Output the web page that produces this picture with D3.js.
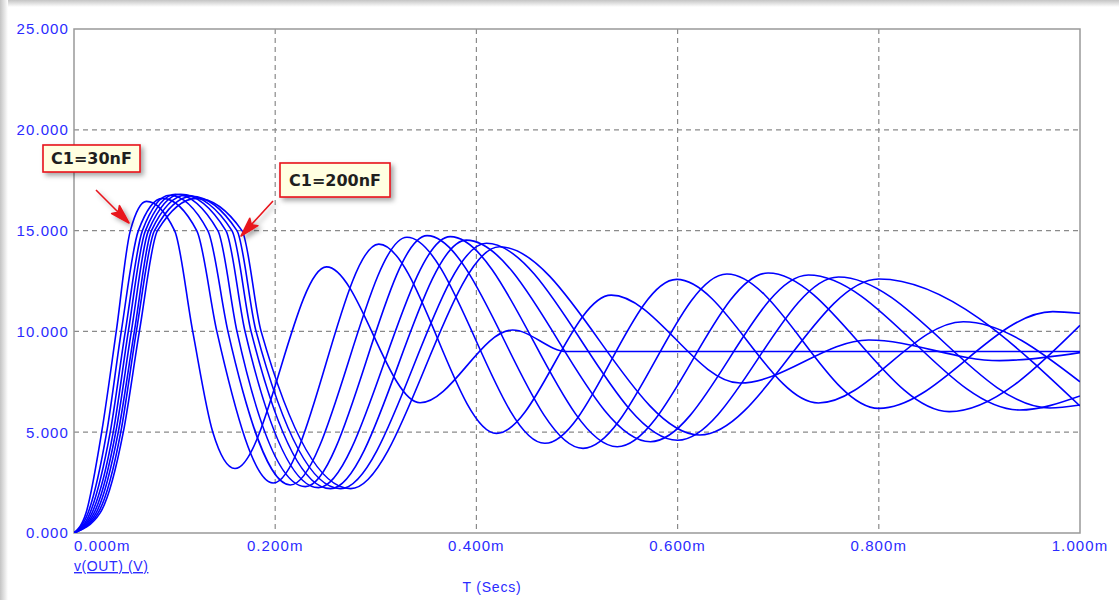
<!DOCTYPE html>
<html>
<head>
<meta charset="utf-8">
<script src="https://cdn.jsdelivr.net/npm/d3@7"></script>
<style>
  body { margin: 0; background: #fff; }
  svg { display: block; }
</style>
</head>
<body>
<script>
// time in ms, v(OUT) in volts; one array per C1 value (30nF .. 200nF)
const wave30nF  = [[0,0],[0.012,1],[0.0275,5],[0.042,10],[0.056,15],[0.072,16.45],[0.100,15],[0.118,10],[0.138,5],[0.16,3.2],
                   [0.251,13.2],[0.344,6.46],[0.436,10.07],[0.49,9.0],[1.0,9.0]];
const wave55nF  = [[0,0],[0.014,1],[0.0325,5],[0.047,10],[0.064,15],[0.088,16.6],[0.122,15],[0.142,10],[0.198,2.48],
                   [0.303,14.33],[0.42,4.94],[0.534,11.8],[0.662,7.44],[0.79,9.57],[0.92,8.55],[1.0,8.95]];
const wave80nF  = [[0,0],[0.016,1],[0.036,5],[0.051,10],[0.068,15],[0.095,16.75],[0.133,15],[0.153,10],[0.215,2.38],
                   [0.331,14.67],[0.468,4.45],[0.599,12.58],[0.74,6.45],[0.884,10.48],[1.0,7.5]];
const wave105nF = [[0,0],[0.018,1],[0.039,5],[0.054,10],[0.071,15],[0.101,16.8],[0.143,15],[0.162,10],[0.23,2.3],
                   [0.351,14.75],[0.506,4.2],[0.649,12.85],[0.80,6.18],[0.973,10.98],[1.0,10.9]];
const wave130nF = [[0,0],[0.020,1],[0.0415,5],[0.057,10],[0.074,15],[0.106,16.8],[0.151,15],[0.170,10],[0.243,2.25],
                   [0.374,14.7],[0.54,4.28],[0.69,12.9],[0.87,6.02],[1.0,10.3]];
const wave155nF = [[0,0],[0.022,1],[0.044,5],[0.060,10],[0.077,15],[0.111,16.75],[0.157,15],[0.176,10],[0.255,2.2],
                   [0.39,14.53],[0.573,4.53],[0.73,12.8],[0.94,6.1],[1.0,6.8]];
const wave180nF = [[0,0],[0.024,1],[0.0465,5],[0.062,10],[0.080,15],[0.117,16.7],[0.162,15],[0.181,10],[0.265,2.2],
                   [0.41,14.37],[0.60,4.6],[0.76,12.7],[0.97,6.2],[1.0,6.35]];
const wave200nF = [[0,0],[0.026,1],[0.049,5],[0.065,10],[0.083,15],[0.122,16.6],[0.167,15],[0.186,10],[0.275,2.2],
                   [0.423,14.2],[0.622,4.86],[0.80,12.6],[1.0,6.3]];

const waves = [wave30nF, wave55nF, wave80nF, wave105nF, wave130nF, wave155nF, wave180nF, wave200nF];

const yTicks = [0, 5, 10, 15, 20, 25];
const xTicks = [0, 0.2, 0.4, 0.6, 0.8, 1.0];
const callouts = [
  { text: "C1=30nF",  box: [43, 145, 97, 27],  from: [96, 190],  to: [129, 223] },
  { text: "C1=200nF", box: [280, 163, 110, 34], from: [273, 201], to: [241, 236] }
];

const W = 1119, H = 600;
const plot = { left: 74, top: 29, right: 1080, bottom: 533 };
const axisBlue = "#2b2bff";
const font = "'Liberation Sans', Arial, sans-serif";

const x = d3.scaleLinear().domain([0, 1]).range([plot.left, plot.right]);
const y = d3.scaleLinear().domain([0, 25]).range([plot.bottom, plot.top]);

const svg = d3.select("body").append("svg")
  .attr("width", W)
  .attr("height", H);

const defs = svg.append("defs");

const gTop = defs.append("linearGradient").attr("id", "edgeTop")
  .attr("x1", 0).attr("y1", 0).attr("x2", 0).attr("y2", 1);
gTop.append("stop").attr("offset", 0).attr("stop-color", "#c4c4c4");
gTop.append("stop").attr("offset", 1).attr("stop-color", "#ffffff");

const gLeft = defs.append("linearGradient").attr("id", "edgeLeft")
  .attr("x1", 0).attr("y1", 0).attr("x2", 1).attr("y2", 0);
gLeft.append("stop").attr("offset", 0).attr("stop-color", "#c4c4c4");
gLeft.append("stop").attr("offset", 1).attr("stop-color", "#ffffff");

defs.append("filter").attr("id", "shadow")
  .attr("x", "-30%").attr("y", "-30%").attr("width", "170%").attr("height", "170%")
  .append("feDropShadow")
    .attr("dx", 3).attr("dy", 3).attr("stdDeviation", 2.5)
    .attr("flood-color", "#000").attr("flood-opacity", 0.35);

defs.append("clipPath").attr("id", "plotClip")
  .append("rect")
    .attr("x", plot.left).attr("y", plot.top)
    .attr("width", plot.right - plot.left).attr("height", plot.bottom - plot.top);

// window edge shading
svg.append("rect").attr("x", 0).attr("y", 0).attr("width", W).attr("height", 7).attr("fill", "url(#edgeTop)");
svg.append("rect").attr("x", 0).attr("y", 0).attr("width", 8).attr("height", H).attr("fill", "url(#edgeLeft)");

// grid
svg.append("g")
  .selectAll("line")
  .data(yTicks.slice(1, -1))
  .join("line")
    .attr("x1", plot.left).attr("x2", plot.right)
    .attr("y1", d => y(d)).attr("y2", d => y(d))
    .attr("stroke", "#8a8a8a")
    .attr("stroke-width", 1.2)
    .attr("stroke-dasharray", "5,4");

svg.append("g")
  .selectAll("line")
  .data(xTicks.slice(1, -1))
  .join("line")
    .attr("x1", d => x(d)).attr("x2", d => x(d))
    .attr("y1", plot.top).attr("y2", plot.bottom)
    .attr("stroke", "#8a8a8a")
    .attr("stroke-width", 1.2)
    .attr("stroke-dasharray", "5,4");

// frame
svg.append("rect")
  .attr("x", plot.left).attr("y", plot.top)
  .attr("width", plot.right - plot.left).attr("height", plot.bottom - plot.top)
  .attr("fill", "none")
  .attr("stroke", "#999")
  .attr("stroke-width", 1.5);

// curves
const line = d3.line()
  .x(d => x(d[0]))
  .y(d => y(d[1]))
  .curve(d3.curveMonotoneX);

svg.append("g")
  .attr("clip-path", "url(#plotClip)")
  .selectAll("path")
  .data(waves)
  .join("path")
    .attr("d", line)
    .attr("fill", "none")
    .attr("stroke", "#0000ff")
    .attr("stroke-width", 1.6);

// y tick labels
svg.append("g")
  .selectAll("text")
  .data(yTicks)
  .join("text")
    .attr("x", 69)
    .attr("y", d => y(d))
    .attr("dy", "0.36em")
    .attr("text-anchor", "end")
    .attr("font-family", font)
    .attr("font-size", 15)
    .attr("letter-spacing", 1.1)
    .attr("fill", axisBlue)
    .text(d => d3.format(".3f")(d));

// x tick labels
svg.append("g")
  .selectAll("text")
  .data(xTicks)
  .join("text")
    .attr("x", (d, i) => i === 0 ? plot.left : x(d))
    .attr("y", 551)
    .attr("text-anchor", (d, i) => i === 0 ? "start" : "middle")
    .attr("font-family", font)
    .attr("font-size", 15)
    .attr("letter-spacing", 1.1)
    .attr("fill", axisBlue)
    .text(d => d3.format(".3f")(d) + "m");

svg.append("text")
  .attr("x", plot.left)
  .attr("y", 571)
  .attr("font-family", font)
  .attr("font-size", 14)
  .attr("letter-spacing", 0.6)
  .attr("text-decoration", "underline")
  .attr("fill", axisBlue)
  .text("v(OUT) (V)");

svg.append("text")
  .attr("x", 492)
  .attr("y", 592)
  .attr("text-anchor", "middle")
  .attr("font-family", font)
  .attr("font-size", 14)
  .attr("letter-spacing", 0.8)
  .attr("fill", axisBlue)
  .text("T (Secs)");

// callouts
const notes = svg.append("g").selectAll("g")
  .data(callouts)
  .join("g");

notes.append("path")
  .attr("filter", "url(#shadow)")
  .attr("fill", "#e8141c")
  .attr("stroke", "#e8141c")
  .attr("stroke-width", 1.6)
  .attr("stroke-linejoin", "round")
  .attr("d", d => {
    const [x0, y0] = d.from, [x1, y1] = d.to;
    const ang = Math.atan2(y1 - y0, x1 - x0);
    const len = 19, half = 5.5;
    const bx = x1 - len * Math.cos(ang), by = y1 - len * Math.sin(ang);
    const nx = -Math.sin(ang) * half, ny = Math.cos(ang) * half;
    const cx = x1 - len * 0.8 * Math.cos(ang), cy = y1 - len * 0.8 * Math.sin(ang);
    return `M${x0},${y0}L${cx},${cy}` +
      `M${x1},${y1}L${bx + nx},${by + ny}L${cx},${cy}L${bx - nx},${by - ny}Z`;
  });

notes.append("rect")
  .attr("filter", "url(#shadow)")
  .attr("x", d => d.box[0]).attr("y", d => d.box[1])
  .attr("width", d => d.box[2]).attr("height", d => d.box[3])
  .attr("fill", "#ffffe1")
  .attr("stroke", "#e8141c")
  .attr("stroke-width", 1.6);

notes.append("text")
  .attr("x", d => d.box[0] + d.box[2] / 2)
  .attr("y", d => d.box[1] + d.box[3] / 2)
  .attr("dy", "0.36em")
  .attr("text-anchor", "middle")
  .attr("font-family", "'DejaVu Sans', Verdana, sans-serif")
  .attr("font-size", 16)
  .attr("font-weight", "bold")
  .attr("fill", "#1e1e1e")
  .text(d => d.text);
</script>
</body>
</html>
